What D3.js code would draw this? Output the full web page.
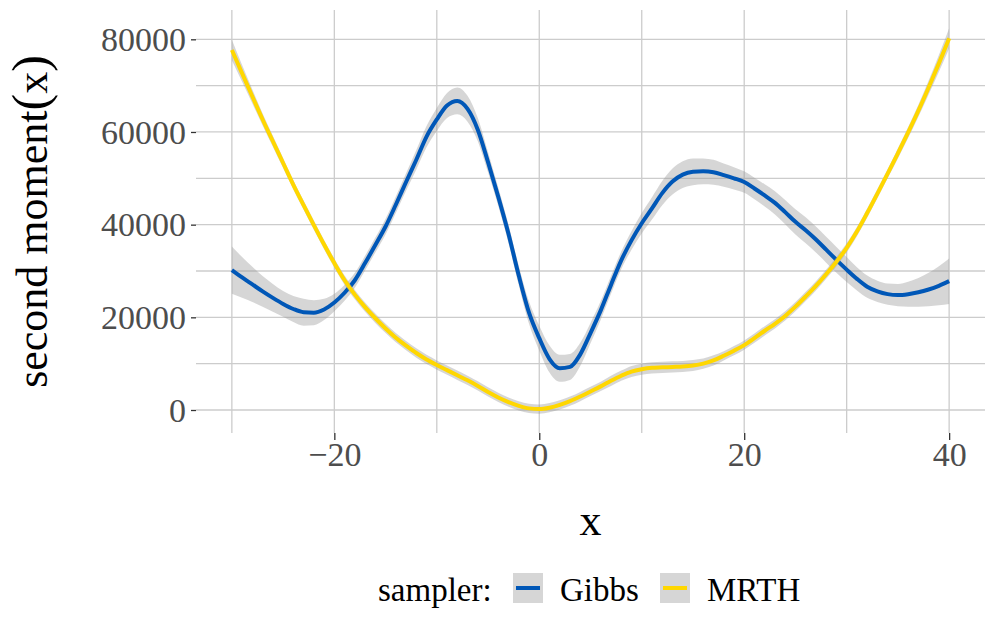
<!DOCTYPE html>
<html><head><meta charset="utf-8">
<script src="https://cdn.jsdelivr.net/npm/d3@7"></script>
<style>body{margin:0;background:#fff}svg{display:block}</style>
</head><body>
<svg id="chart" width="997" height="623"></svg>
<script>
const xs = d3.range(-30, 41);
const gibbs = [30200,28600,27100,25600,24200,22900,21800,21100,21000,21700,23200,25300,28000,31700,35600,39600,44300,49200,54000,59000,62700,65700,66700,65000,60500,53500,46000,38000,29000,21000,15500,11000,9000,9300,12000,16600,21500,27000,32300,36600,40300,43500,46800,49300,50800,51400,51500,51300,50700,50000,49200,47800,46300,44700,42700,40600,38800,36800,34600,32400,30300,28300,26600,25600,25000,24800,25000,25400,26000,26800,27800];
const gibbsSE = [5100,4400,3800,3300,3000,2800,2800,2900,2700,2300,1900,1700,1600,1600,1600,1700,1800,1900,2100,2300,2500,2700,2900,2800,2500,2200,2000,2000,2100,2400,2700,2900,2900,2800,2500,2200,2000,1900,1900,2000,2200,2400,2600,2800,2900,2900,2800,2700,2500,2400,2300,2300,2400,2500,2600,2700,2800,2800,2800,2800,2700,2500,2400,2300,2300,2400,2700,3100,3600,4200,4900];
const mrth = [77700,72650,67650,62700,58000,53300,48600,44200,39900,35700,31700,28000,24900,22200,19800,17600,15600,13900,12300,10900,9700,8600,7500,6400,5200,3900,2700,1700,900,350,200,500,1100,1900,2900,4000,5100,6300,7400,8300,8800,9100,9200,9300,9400,9600,10000,10700,11700,12800,14000,15500,17100,18600,20300,22300,24500,26800,29300,32000,35000,38500,42500,46700,51000,55400,59900,64600,69600,74800,80200];
const mrthSE = [2200,1800,1500,1300,1200,1100,1000,1000,1000,1000,1000,1000,1000,1000,1000,1000,1000,1000,1000,1000,1000,1000,1000,1000,1000,1000,1000,1000,1000,1000,1000,1000,1000,1000,1000,1000,1000,1100,1100,1200,1200,1200,1200,1200,1200,1200,1100,1100,1000,1000,1000,1000,1000,1000,1000,1000,1000,1000,1000,1000,1000,1000,1000,1000,1000,1100,1200,1300,1500,1800,2200];
const samplers = ["Gibbs", "MRTH"];
const colors = ["#0057B7", "#FFD700"];
const xTicks = [-20, 0, 20, 40];
const xMinor = [-30, -10, 10, 30];
const yTicks = [0, 20000, 40000, 60000, 80000];
const yMinor = [10000, 30000, 50000, 70000];

const svg = d3.select("#chart");
const font = "'Liberation Serif','Times New Roman',serif";
const x = d3.scaleLinear().domain([-33.5, 43.5]).range([196, 985]);
const y = d3.scaleLinear().domain([-4964, 86323]).range([433, 10]);

const grid = svg.append("g");
const gc = "#cccccc";
grid.selectAll(".hm").data(yTicks.concat(yMinor)).join("line")
  .attr("x1", 196).attr("x2", 985).attr("y1", d => y(d)).attr("y2", d => y(d))
  .attr("stroke", gc).attr("stroke-width", 1.3);
grid.selectAll(".vm").data(xTicks.concat(xMinor)).join("line")
  .attr("y1", 10).attr("y2", 433).attr("x1", d => x(d)).attr("x2", d => x(d))
  .attr("stroke", gc).attr("stroke-width", 1.3);

const series = [
  {name: samplers[0], v: gibbs, se: gibbsSE, c: colors[0]},
  {name: samplers[1], v: mrth, se: mrthSE, c: colors[1]}
];
const area = d3.area().curve(d3.curveMonotoneX);
const line = d3.line().curve(d3.curveMonotoneX);
series.forEach(s => {
  const pts = xs.map((xv, i) => ({x: xv, y: s.v[i], lo: s.v[i] - s.se[i], hi: s.v[i] + s.se[i]}));
  svg.append("path")
    .attr("d", area.x(d => x(d.x)).y0(d => y(d.lo)).y1(d => y(d.hi))(pts))
    .attr("fill", "#999999").attr("fill-opacity", 0.4);
  svg.append("path")
    .attr("d", line.x(d => x(d.x)).y(d => y(d.y))(pts))
    .attr("fill", "none").attr("stroke", s.c).attr("stroke-width", 4).attr("stroke-linejoin", "round");
});

// axes
const xAxis = d3.axisBottom(x).tickValues(xTicks).tickSize(7).tickPadding(3)
  .tickFormat(d => d < 0 ? "\u2212" + Math.abs(d) : d);
const gx = svg.append("g").attr("transform", "translate(0,433)").call(xAxis);
gx.select(".domain").remove();
gx.selectAll(".tick line").attr("stroke", "#333").attr("stroke-width", 1.3);
gx.selectAll(".tick text").attr("font-family", font).attr("font-size", 34).attr("fill", "#4d4d4d").attr("dy", "0.68em");

const yAxis = d3.axisLeft(y).tickValues(yTicks).tickSize(5).tickPadding(5).tickFormat(d3.format("d"));
const gy = svg.append("g").attr("transform", "translate(196,0)").call(yAxis);
gy.select(".domain").remove();
gy.selectAll(".tick line").attr("stroke", "#333").attr("stroke-width", 1.3);
gy.selectAll(".tick text").attr("font-family", font).attr("font-size", 34).attr("fill", "#4d4d4d").attr("dy", "0.33em");

// titles
svg.append("text").attr("x", 590.5).attr("y", 535).attr("text-anchor", "middle")
  .attr("font-family", font).attr("font-size", 44).attr("fill", "#000").text("x");
const yt = svg.append("text").attr("transform", "translate(47,221.5) rotate(-90)").attr("text-anchor", "middle")
  .attr("font-family", font).attr("font-size", 44).attr("fill", "#000");
yt.append("tspan").text("second moment");
yt.append("tspan").attr("font-size", 50).text("(");
yt.append("tspan").text("x");
yt.append("tspan").attr("font-size", 50).text(")");

// legend
const lg = svg.append("g");
lg.append("text").attr("x", 378).attr("y", 600.5).attr("font-family", font).attr("font-size", 33).attr("fill", "#000").text("sampler:");
const keyX = [513, 660];
const labX = [560, 707];
series.forEach((s, i) => {
  lg.append("rect").attr("x", keyX[i]).attr("y", 573).attr("width", 30).attr("height", 30)
    .attr("fill", "#999999").attr("fill-opacity", 0.4);
  lg.append("line").attr("x1", keyX[i] + 3).attr("x2", keyX[i] + 27).attr("y1", 588).attr("y2", 588)
    .attr("stroke", s.c).attr("stroke-width", 4);
  lg.append("text").attr("x", labX[i]).attr("y", 600.5).attr("font-family", font).attr("font-size", 33).attr("fill", "#000").text(s.name);
});
</script>
</body></html>
